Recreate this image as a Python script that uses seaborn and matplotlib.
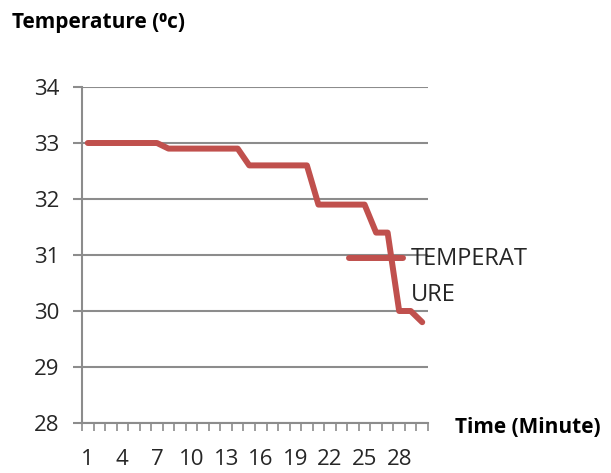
import matplotlib
matplotlib.use("Agg")
import matplotlib.pyplot as plt
from matplotlib.legend_handler import HandlerLine2D
import seaborn as sns
import pandas as pd
import numpy as np

# Data
minutes = list(range(1, 31))
temperature = [33.0]*7 + [32.9]*7 + [32.6]*6 + [31.9]*5 + [31.4]*2 + [30.0]*2 + [29.8]
series_label = "TEMPERAT\nURE"
y_ticks = [28, 29, 30, 31, 32, 33, 34]
x_tick_labels = [1, 4, 7, 10, 13, 16, 19, 22, 25, 28]
y_title = "Temperature (\u2070c)"
x_title = "Time (Minute)"

df = pd.DataFrame({"Minute": minutes, "Temperature": temperature})

sns.set_theme(style="white")
plt.rcParams["font.family"] = ["Open Sans", "DejaVu Sans"]

W, H = 611, 473
fig = plt.figure(figsize=(W/100, H/100), dpi=100)
ax = fig.add_axes([82/W, 1-423/H, (428-82)/W, (423-87)/H])

line_color = "#C0504D"
grid_color = "#8C8C8C"

sns.lineplot(data=df, x="Minute", y="Temperature", ax=ax, color=line_color,
             linewidth=4.3, label=series_label, solid_capstyle="round")

ax.set_xlim(0.5, 30.5)
ax.set_ylim(28, 34)
ax.set_yticks(y_ticks)
ax.set_yticklabels([str(v) for v in y_ticks], fontsize=16, color="#262626")
ax.set_xticks(x_tick_labels)
ax.set_xticklabels([str(v) for v in x_tick_labels], fontsize=16, color="#262626")
ax.set_xticks(np.arange(0.5, 31.0, 1.0), minor=True)

ax.yaxis.grid(True, color=grid_color, linewidth=1.5)
ax.xaxis.grid(False)
ax.set_axisbelow(True)

for s in ["top", "right"]:
    ax.spines[s].set_visible(False)
for s in ["left", "bottom"]:
    ax.spines[s].set_color(grid_color)
    ax.spines[s].set_linewidth(1.5)

ax.tick_params(axis="y", which="major", direction="out", length=6.5, width=1.5,
               color=grid_color, left=True, pad=10)
ax.tick_params(axis="x", which="major", length=0, pad=19)
ax.tick_params(axis="x", which="minor", direction="out", length=6, width=1.2,
               color=grid_color, bottom=True)

ax.set_xlabel("")
ax.set_ylabel("")

fig.text(12/W, 1-28/H, y_title, fontsize=15, fontweight="bold", ha="left",
         va="baseline", color="black")
fig.text(455/W, 1-433/H, x_title, fontsize=15, fontweight="bold", ha="left",
         va="baseline", color="black")


class FirstLineHandler(HandlerLine2D):
    """Place the legend line level with the first line of a two-line label."""
    def __init__(self, yshift, **kw):
        super().__init__(**kw)
        self.yshift = yshift

    def create_artists(self, legend, orig_handle, xdescent, ydescent, width,
                       height, fontsize, trans):
        arts = super().create_artists(legend, orig_handle, xdescent, ydescent,
                                      width, height, fontsize, trans)
        for a in arts:
            a.set_ydata(np.asarray(a.get_ydata()) + self.yshift)
        return arts


handles, labels = ax.get_legend_handles_labels()
leg = ax.legend(handles, labels, loc="upper left",
                bbox_to_anchor=(349/W, 1-247/H),
                bbox_transform=fig.transFigure, frameon=False, fontsize=17,
                handlelength=2.3, handletextpad=0.3,
                borderpad=0, borderaxespad=0,
                handler_map={handles[0]: FirstLineHandler(yshift=14)})
for t in leg.get_texts():
    t.set_color("#262626")
    t.set_linespacing(1.64)

fig.savefig("out.png", dpi=100)
